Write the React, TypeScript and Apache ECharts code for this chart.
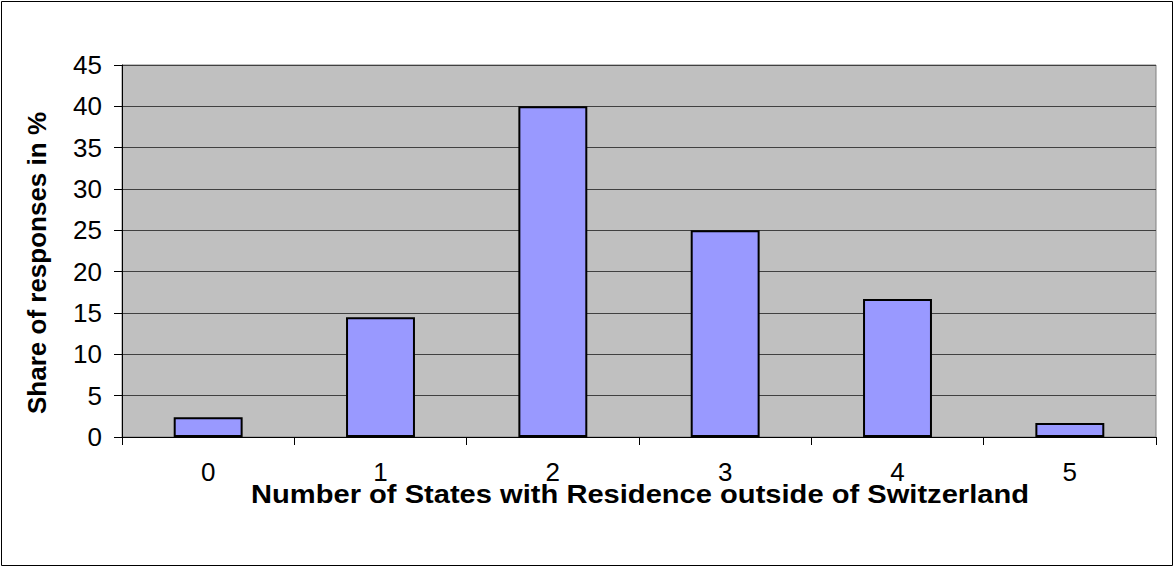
import React, { useEffect, useRef } from "react";
import * as echarts from "echarts";

const categories = ["0", "1", "2", "3", "4", "5"];
const shares = [2.4, 14.5, 40, 25, 16.7, 1.7];
const yTicks = { min: 0, max: 45, interval: 5 };
const xTitle = "Number of States with Residence outside of Switzerland";
const yTitle = "Share of responses in %";

const FONT = "'Liberation Sans', Arial, sans-serif";

export default function App() {
  const ref = useRef<HTMLDivElement>(null);
  useEffect(() => {
    if (!ref.current) return;
    const chart = echarts.init(ref.current, null, { renderer: "svg" });
    chart.setOption({
      animation: false,
      backgroundColor: "#ffffff",
      grid: {
        left: 122,
        right: 18,
        top: 65,
        bottom: 130,
        show: true,
        backgroundColor: "#C0C0C0",
        borderColor: "#808080",
        borderWidth: 1,
      },
      xAxis: {
        type: "category",
        data: categories,
        boundaryGap: true,
        axisLine: { show: true, lineStyle: { color: "#000", width: 1 } },
        axisTick: { show: true, length: 8, inside: false, alignWithLabel: false, lineStyle: { color: "#000" } },
        axisLabel: { color: "#000", fontFamily: FONT, fontSize: 26, margin: 22 },
        splitLine: { show: false },
      },
      yAxis: {
        type: "value",
        min: yTicks.min,
        max: yTicks.max,
        interval: yTicks.interval,
        axisLine: { show: true, lineStyle: { color: "#000", width: 1 } },
        axisTick: { show: true, length: 8, inside: false, lineStyle: { color: "#000" } },
        axisLabel: { color: "#000", fontFamily: FONT, fontSize: 26, margin: 20 },
        splitLine: { show: true, lineStyle: { color: "#404040", width: 1 } },
      },
      series: [
        {
          type: "bar",
          data: shares,
          barWidth: "40%",
          itemStyle: { color: "#9999FF", borderColor: "#000", borderWidth: 2 },
        },
      ],
      graphic: [
        {
          type: "rect",
          shape: { x: 1.5, y: 1.5, width: 1171, height: 564 },
          style: { fill: "none", stroke: "#000", lineWidth: 1 },
          silent: true,
        },
        {
          type: "text",
          x: 640,
          y: 494,
          scaleX: 1.12,
          style: {
            text: xTitle,
            fontFamily: FONT,
            fontWeight: "bold",
            fontSize: 26,
            fill: "#000",
            align: "center",
            verticalAlign: "middle",
          },
        },
        {
          type: "text",
          x: 37,
          y: 263,
          rotation: Math.PI / 2,
          style: {
            text: yTitle,
            fontFamily: FONT,
            fontWeight: "bold",
            fontSize: 26,
            fill: "#000",
            align: "center",
            verticalAlign: "middle",
          },
        },
      ],
    });
    return () => chart.dispose();
  }, []);
  return (
    <div
      ref={ref}
      style={{ position: "fixed", left: 0, top: 0, width: 1174, height: 567 }}
    />
  );
}
